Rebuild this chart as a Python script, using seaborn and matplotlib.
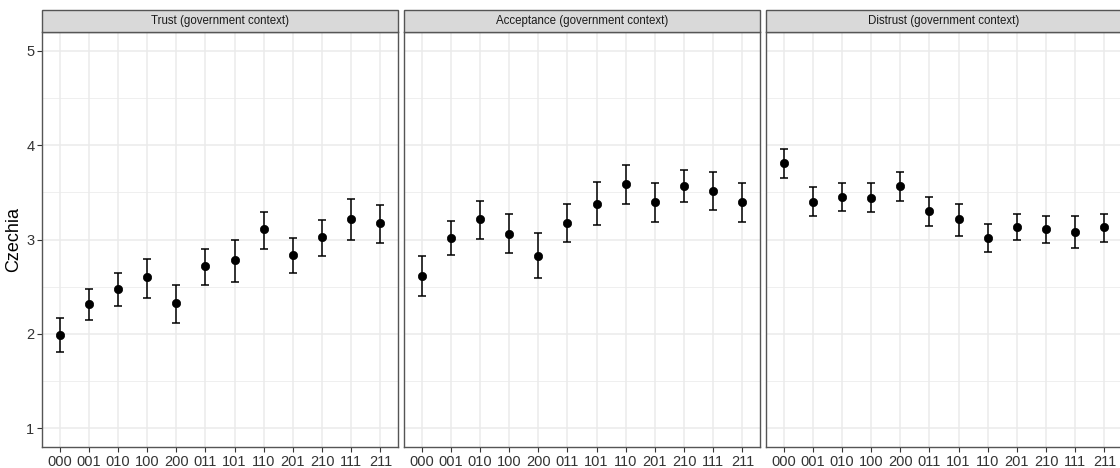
import pandas as pd
import numpy as np
import matplotlib
matplotlib.use("Agg")
import matplotlib.pyplot as plt
import seaborn as sns
from matplotlib.patches import Rectangle

# --- data ---
conditions = ["000", "001", "010", "100", "200", "011", "101", "110", "201", "210", "111", "211"]
panels = ["Trust (government context)", "Acceptance (government context)", "Distrust (government context)"]

trust_mean = [1.99, 2.32, 2.47, 2.60, 2.33, 2.72, 2.78, 3.11, 2.84, 3.03, 3.22, 3.17]
trust_low = [1.81, 2.15, 2.30, 2.38, 2.11, 2.52, 2.55, 2.90, 2.64, 2.83, 2.99, 2.96]
trust_high = [2.17, 2.48, 2.64, 2.79, 2.52, 2.90, 2.99, 3.29, 3.02, 3.21, 3.43, 3.37]

accept_mean = [2.61, 3.02, 3.22, 3.06, 2.83, 3.18, 3.38, 3.59, 3.40, 3.57, 3.51, 3.40]
accept_low = [2.40, 2.84, 3.01, 2.86, 2.59, 2.97, 3.15, 3.38, 3.19, 3.40, 3.31, 3.19]
accept_high = [2.82, 3.20, 3.41, 3.27, 3.07, 3.38, 3.61, 3.79, 3.60, 3.74, 3.72, 3.60]

distrust_mean = [3.81, 3.40, 3.45, 3.44, 3.57, 3.30, 3.22, 3.02, 3.13, 3.11, 3.08, 3.13]
distrust_low = [3.65, 3.25, 3.30, 3.29, 3.41, 3.14, 3.04, 2.87, 2.99, 2.96, 2.91, 2.97]
distrust_high = [3.96, 3.56, 3.60, 3.60, 3.72, 3.45, 3.38, 3.16, 3.27, 3.25, 3.25, 3.27]

country = "Czechia"

frames = []
for name, m, lo, hi in zip(panels,
                           [trust_mean, accept_mean, distrust_mean],
                           [trust_low, accept_low, distrust_low],
                           [trust_high, accept_high, distrust_high]):
    frames.append(pd.DataFrame({"panel": name, "cond": conditions,
                                "mean": m, "low": lo, "high": hi}))
df = pd.concat(frames, ignore_index=True)

# --- plotting ---
sns.set_theme(style="white")
plt.rcParams["font.family"] = ["Liberation Sans", "DejaVu Sans"]

W, H = 1120, 468
fig = plt.figure(figsize=(W / 100, H / 100), dpi=100)

panel_left = [42, 404, 766]
panel_w = 356
panel_top, panel_bot = 32, 447
strip_h = 22

grid_col = "#EBEBEB"
border_col = "#555555"

for i, name in enumerate(panels):
    ax = fig.add_axes([panel_left[i] / W, (H - panel_bot) / H,
                       panel_w / W, (panel_bot - panel_top) / H])
    sub = df[df["panel"] == name]

    # grid like theme_bw
    for yv in [1.5, 2.5, 3.5, 4.5]:
        ax.axhline(yv, color=grid_col, lw=0.55, zorder=0)
    for yv in [1, 2, 3, 4, 5]:
        ax.axhline(yv, color=grid_col, lw=1.1, zorder=0)

    ax.errorbar(sub["cond"], sub["mean"],
                yerr=[sub["mean"] - sub["low"], sub["high"] - sub["mean"]],
                fmt="none", ecolor="black", elinewidth=1.1, capsize=3,
                capthick=1.1, zorder=2)
    sns.scatterplot(data=sub, x="cond", y="mean", ax=ax, color="black",
                    s=36, edgecolor="black", linewidth=0.5, zorder=3)
    for xv in ax.get_xticks():
        ax.axvline(xv, color=grid_col, lw=1.1, zorder=0)

    ax.set_xlim(-0.6, len(conditions) - 0.4)
    ax.set_ylim(0.8, 5.2)
    ax.set_yticks([1, 2, 3, 4, 5])
    ax.set_xlabel("")
    ax.set_ylabel("")
    ax.tick_params(axis="both", which="both", direction="out", length=3.5,
                   width=0.8, color="#333333", labelsize=10.5,
                   labelcolor="#333333", bottom=True, left=(i == 0), pad=2)
    if i == 0:
        ax.set_ylabel(country, fontsize=13, color="black", labelpad=3)
    else:
        ax.tick_params(axis="y", left=False, labelleft=False)

    for sp in ax.spines.values():
        sp.set_color(border_col)
        sp.set_linewidth(1.0)
        sp.set_visible(True)

    # facet strip
    rel_h = strip_h / (panel_bot - panel_top)
    strip = Rectangle((0, 1), 1, rel_h, transform=ax.transAxes,
                      facecolor="#D9D9D9", edgecolor=border_col, lw=1.0,
                      clip_on=False, zorder=5)
    ax.add_patch(strip)
    ax.text(0.5, 1 + rel_h / 2, name, transform=ax.transAxes, ha="center",
            va="center", fontsize=8.3, color="#1A1A1A", zorder=6)

fig.savefig("out.png", dpi=100)
